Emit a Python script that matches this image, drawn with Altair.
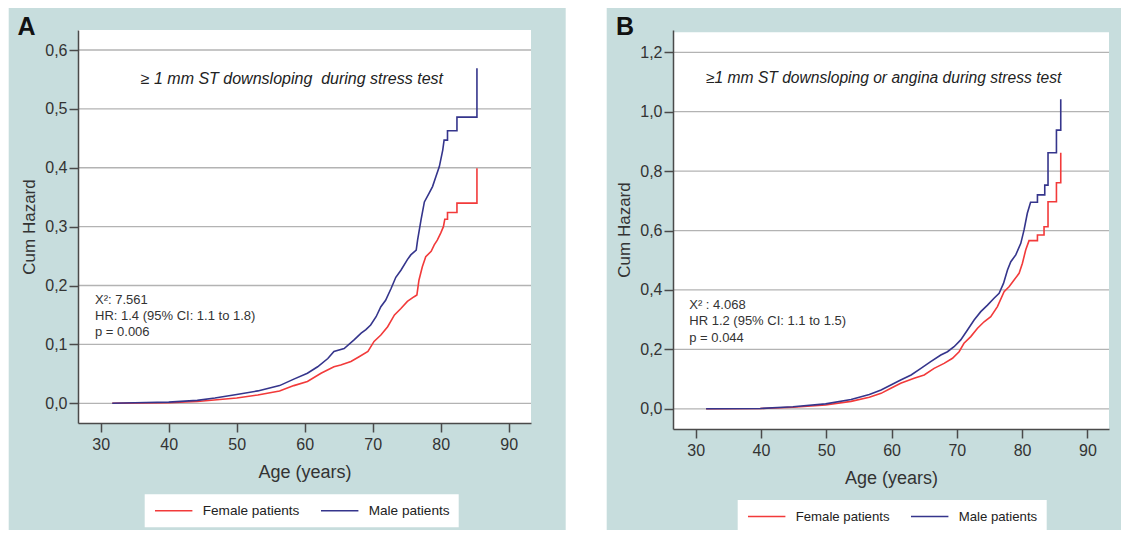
import altair as alt
import pandas as pd

TEAL = "#c7dddd"
RED = "#f23a3a"
NAVY = "#35358c"
FONT = "Liberation Sans"
SERIES = ["Female patients", "Male patients"]
X_TICKS = [30, 40, 50, 60, 70, 80, 90]
A_Y_TICKS = [0.0, 0.1, 0.2, 0.3, 0.4, 0.5, 0.6]
B_Y_TICKS = [0.0, 0.2, 0.4, 0.6, 0.8, 1.0, 1.2]

# ---- Panel A: cumulative hazard ----
A_female_age = [31.7, 40.0, 44.2, 50.0, 53.1, 56.3, 58.4, 60.4, 62.4, 64.3, 65.3, 66.8, 68.0,
                69.3, 70.2, 71.2, 72.2, 73.2, 74.15, 75.1, 76.1, 76.5, 76.8, 77.3, 77.8, 78.6,
                79.05, 79.5, 80.0, 80.4, 80.6, 81.0, 81.0, 82.39, 82.39, 85.33, 85.33]
A_female_haz = [0.0, 0.001, 0.003, 0.009, 0.014, 0.021, 0.030, 0.037, 0.051, 0.062, 0.065, 0.071, 0.079,
                0.088, 0.105, 0.116, 0.130, 0.150, 0.161, 0.173, 0.181, 0.184, 0.209, 0.232, 0.249, 0.258,
                0.269, 0.277, 0.289, 0.300, 0.3125, 0.3125, 0.324, 0.324, 0.340, 0.340, 0.399]
A_male_age = [31.7, 35.0, 40.0, 44.2, 46.8, 50.0, 53.1, 56.3, 58.4, 60.4, 61.9, 63.4, 64.3, 65.8,
              67.3, 68.3, 69.0, 69.7, 70.5, 71.2, 71.9, 72.7, 73.4, 74.15, 75.1, 75.6, 76.4, 76.6,
              77.1, 77.6, 78.3, 78.8, 79.3, 79.8, 80.3, 80.5, 81.0, 81.0, 82.39, 82.39, 85.33, 85.33]
A_male_haz = [0.0, 0.001, 0.002, 0.005, 0.009, 0.015, 0.021, 0.030, 0.041, 0.051, 0.062, 0.076, 0.088, 0.093,
              0.108, 0.119, 0.125, 0.133, 0.147, 0.164, 0.175, 0.195, 0.214, 0.226, 0.244, 0.252, 0.260, 0.277,
              0.311, 0.342, 0.357, 0.368, 0.385, 0.402, 0.430, 0.447, 0.447, 0.463, 0.463, 0.486, 0.486, 0.569]

# ---- Panel B ----
B_female_age = [31.6, 39.9, 44.9, 49.9, 53.8, 56.6, 58.4, 59.9, 61.4, 63.46, 65.0, 66.52, 68.05,
                69.34, 70.35, 71.1, 72.14, 73.17, 74.18, 75.2, 76.22, 77.24, 78.0, 78.77, 79.54,
                80.05, 80.55, 81.06, 82.35, 82.35, 83.36, 83.36, 83.97, 83.97, 85.26, 85.26, 85.92, 85.92]
B_female_haz = [0.0, 0.001, 0.005, 0.013, 0.025, 0.039, 0.052, 0.069, 0.086, 0.103, 0.114, 0.136, 0.153,
                0.170, 0.192, 0.2205, 0.243, 0.271, 0.293, 0.310, 0.344, 0.394, 0.411, 0.4335, 0.456,
                0.490, 0.5345, 0.566, 0.566, 0.585, 0.585, 0.613, 0.613, 0.697, 0.697, 0.761, 0.761, 0.862]
B_male_age = [31.6, 39.9, 44.9, 49.9, 53.8, 56.6, 58.4, 59.9, 61.4, 63.0, 64.5, 66.0, 67.55, 68.57,
              69.58, 70.6, 71.63, 72.65, 73.67, 74.7, 75.7, 76.48, 77.15, 77.76, 78.27, 79.03, 79.8,
              80.3, 80.8, 81.3, 82.35, 82.35, 83.47, 83.47, 83.97, 83.97, 85.26, 85.26, 85.92, 85.92]
B_male_haz = [0.0, 0.001, 0.007, 0.0165, 0.031, 0.048, 0.063, 0.080, 0.097, 0.114, 0.136, 0.159, 0.181, 0.192,
              0.209, 0.232, 0.265, 0.299, 0.327, 0.349, 0.372, 0.389, 0.422, 0.467, 0.495, 0.518, 0.557,
              0.602, 0.658, 0.695, 0.695, 0.720, 0.720, 0.753, 0.753, 0.862, 0.862, 0.938, 0.938, 1.042]

A_TITLE = "\u2265 1 mm ST downsloping \u00a0during stress test"
B_TITLE = "\u22651 mm ST downsloping or angina during stress test"
A_STATS = "X\u00b2: 7.561\nHR: 1.4 (95% CI: 1.1 to 1.8)\np = 0.006"
B_STATS = "X\u00b2 : 4.068\nHR 1.2 (95% CI: 1.1 to 1.5)\np = 0.044"


def make_df(fa, fh, ma, mh):
    rows = []
    for i, (a, h) in enumerate(zip(fa, fh)):
        rows.append({"age": a, "haz": h, "sex": SERIES[0], "idx": i})
    for i, (a, h) in enumerate(zip(ma, mh)):
        rows.append({"age": a, "haz": h, "sex": SERIES[1], "idx": i})
    return pd.DataFrame(rows)


def panel(letter, letter_x, df, xdom, ydom, yticks, w, h, white_top, teal,
          title_txt, title_at, title_fs, stats_txt, stats_at, legend_xy, legend_fs):
    x_enc = alt.X("age:Q", scale=alt.Scale(domain=xdom, nice=False, zero=False),
                  axis=alt.Axis(values=X_TICKS, title="Age (years)", grid=False, zindex=1,
                                format="d", labelPadding=4, titlePadding=11, titleFontSize=18))
    y_enc = alt.Y("haz:Q", scale=alt.Scale(domain=ydom, nice=False, zero=False),
                  axis=alt.Axis(values=yticks, title="Cum Hazard", grid=False, zindex=1,
                                labelExpr="replace(format(datum.value, '.1f'), '.', ',')",
                                labelPadding=2, titlePadding=6, titleFontSize=17))
    one = pd.DataFrame({"k": [0]})
    teal_rect = alt.Chart(one).mark_rect(color=TEAL).encode(
        x=alt.value(teal[0]), x2=alt.value(teal[1]), y=alt.value(teal[2]), y2=alt.value(teal[3]))
    white_rect = alt.Chart(one).mark_rect(color="white").encode(
        x=alt.value(0), x2=alt.value(w), y=alt.value(white_top), y2=alt.value(h))
    grid = alt.Chart(pd.DataFrame({"haz": yticks})).mark_rule(color="#b3b3b3", strokeWidth=1.3).encode(
        y=y_enc, x=alt.value(0), x2=alt.value(w))
    lines = alt.Chart(df).mark_line(strokeWidth=1.6).encode(
        x=x_enc, y=y_enc, order="idx:Q",
        color=alt.Color("sex:N", scale=alt.Scale(domain=SERIES, range=[RED, NAVY]),
                        legend=alt.Legend(title=None, orient="none", legendX=legend_xy[0], legendY=legend_xy[1],
                                          direction="horizontal", columns=2, gridAlign="all",
                                          symbolType="stroke", symbolSize=1400, symbolStrokeWidth=1.6,
                                          clipHeight=15, labelFont=FONT, labelFontSize=legend_fs,
                                          labelColor="#222", labelOffset=9, columnPadding=20, padding=9,
                                          fillColor="white", labelLimit=300)))
    title_df = pd.DataFrame({"age": [title_at[0]], "haz": [title_at[1]], "t": [title_txt]})
    title_t = alt.Chart(title_df).mark_text(align="left", baseline="alphabetic", fontStyle="italic",
                                            fontSize=title_fs, font=FONT, color="#222").encode(
        x=x_enc, y=y_enc, text="t:N")
    stats_df = pd.DataFrame({"age": [stats_at[0]], "haz": [stats_at[1]], "t": [stats_txt]})
    stats_t = alt.Chart(stats_df).mark_text(align="left", baseline="alphabetic", lineBreak="\n",
                                            lineHeight=16.2, fontSize=13, font=FONT, color="#333").encode(
        x=x_enc, y=y_enc, text="t:N")
    letter_t = alt.Chart(one).mark_text(align="left", baseline="alphabetic", fontSize=25, fontWeight="bold",
                                        font=FONT, color="#111").encode(
        x=alt.value(letter_x), y=alt.value(5), text=alt.value(letter))
    return alt.layer(teal_rect, white_rect, grid, lines, title_t, stats_t, letter_t).properties(width=w, height=h)


dfA = make_df(A_female_age, A_female_haz, A_male_age, A_male_haz)
dfB = make_df(B_female_age, B_female_haz, B_male_age, B_male_haz)

pA = panel("A", -60.6, dfA, [26.66, 93.28], [-0.0335, 0.634], A_Y_TICKS, 453, 393, 0,
           [-69.3, 487.7, -22, 500], A_TITLE, (35.89, 0.5423), 16, A_STATS, (29.16, 0.1686),
           (66.7, 464.3), 13.6)
pB = panel("B", -57, dfB, [26.53, 93.31], [-0.068, 1.275], B_Y_TICKS, 436, 399, 2.3,
           [-66.3, 448, -22, 500], B_TITLE, (31.59, 1.0956), 15.6, B_STATS, (29.02, 0.335),
           (64.7, 470), 13.2)

chart = alt.hconcat(pA, pB, spacing=142, bounds="flush", padding=0).resolve_scale(
    color="independent").resolve_legend(color="independent").configure(
    background="white").configure_view(stroke=None, fill=None).configure_axis(
    domainColor="#4a4a4a", domainWidth=1.5, tickColor="#4a4a4a", tickWidth=1.5, tickSize=9,
    labelFont=FONT, labelFontSize=16, labelColor="#333", titleFont=FONT, titleFontWeight="normal",
    titleColor="#333")

chart.save("out.html", embed_options={"renderer": "svg", "actions": False})
